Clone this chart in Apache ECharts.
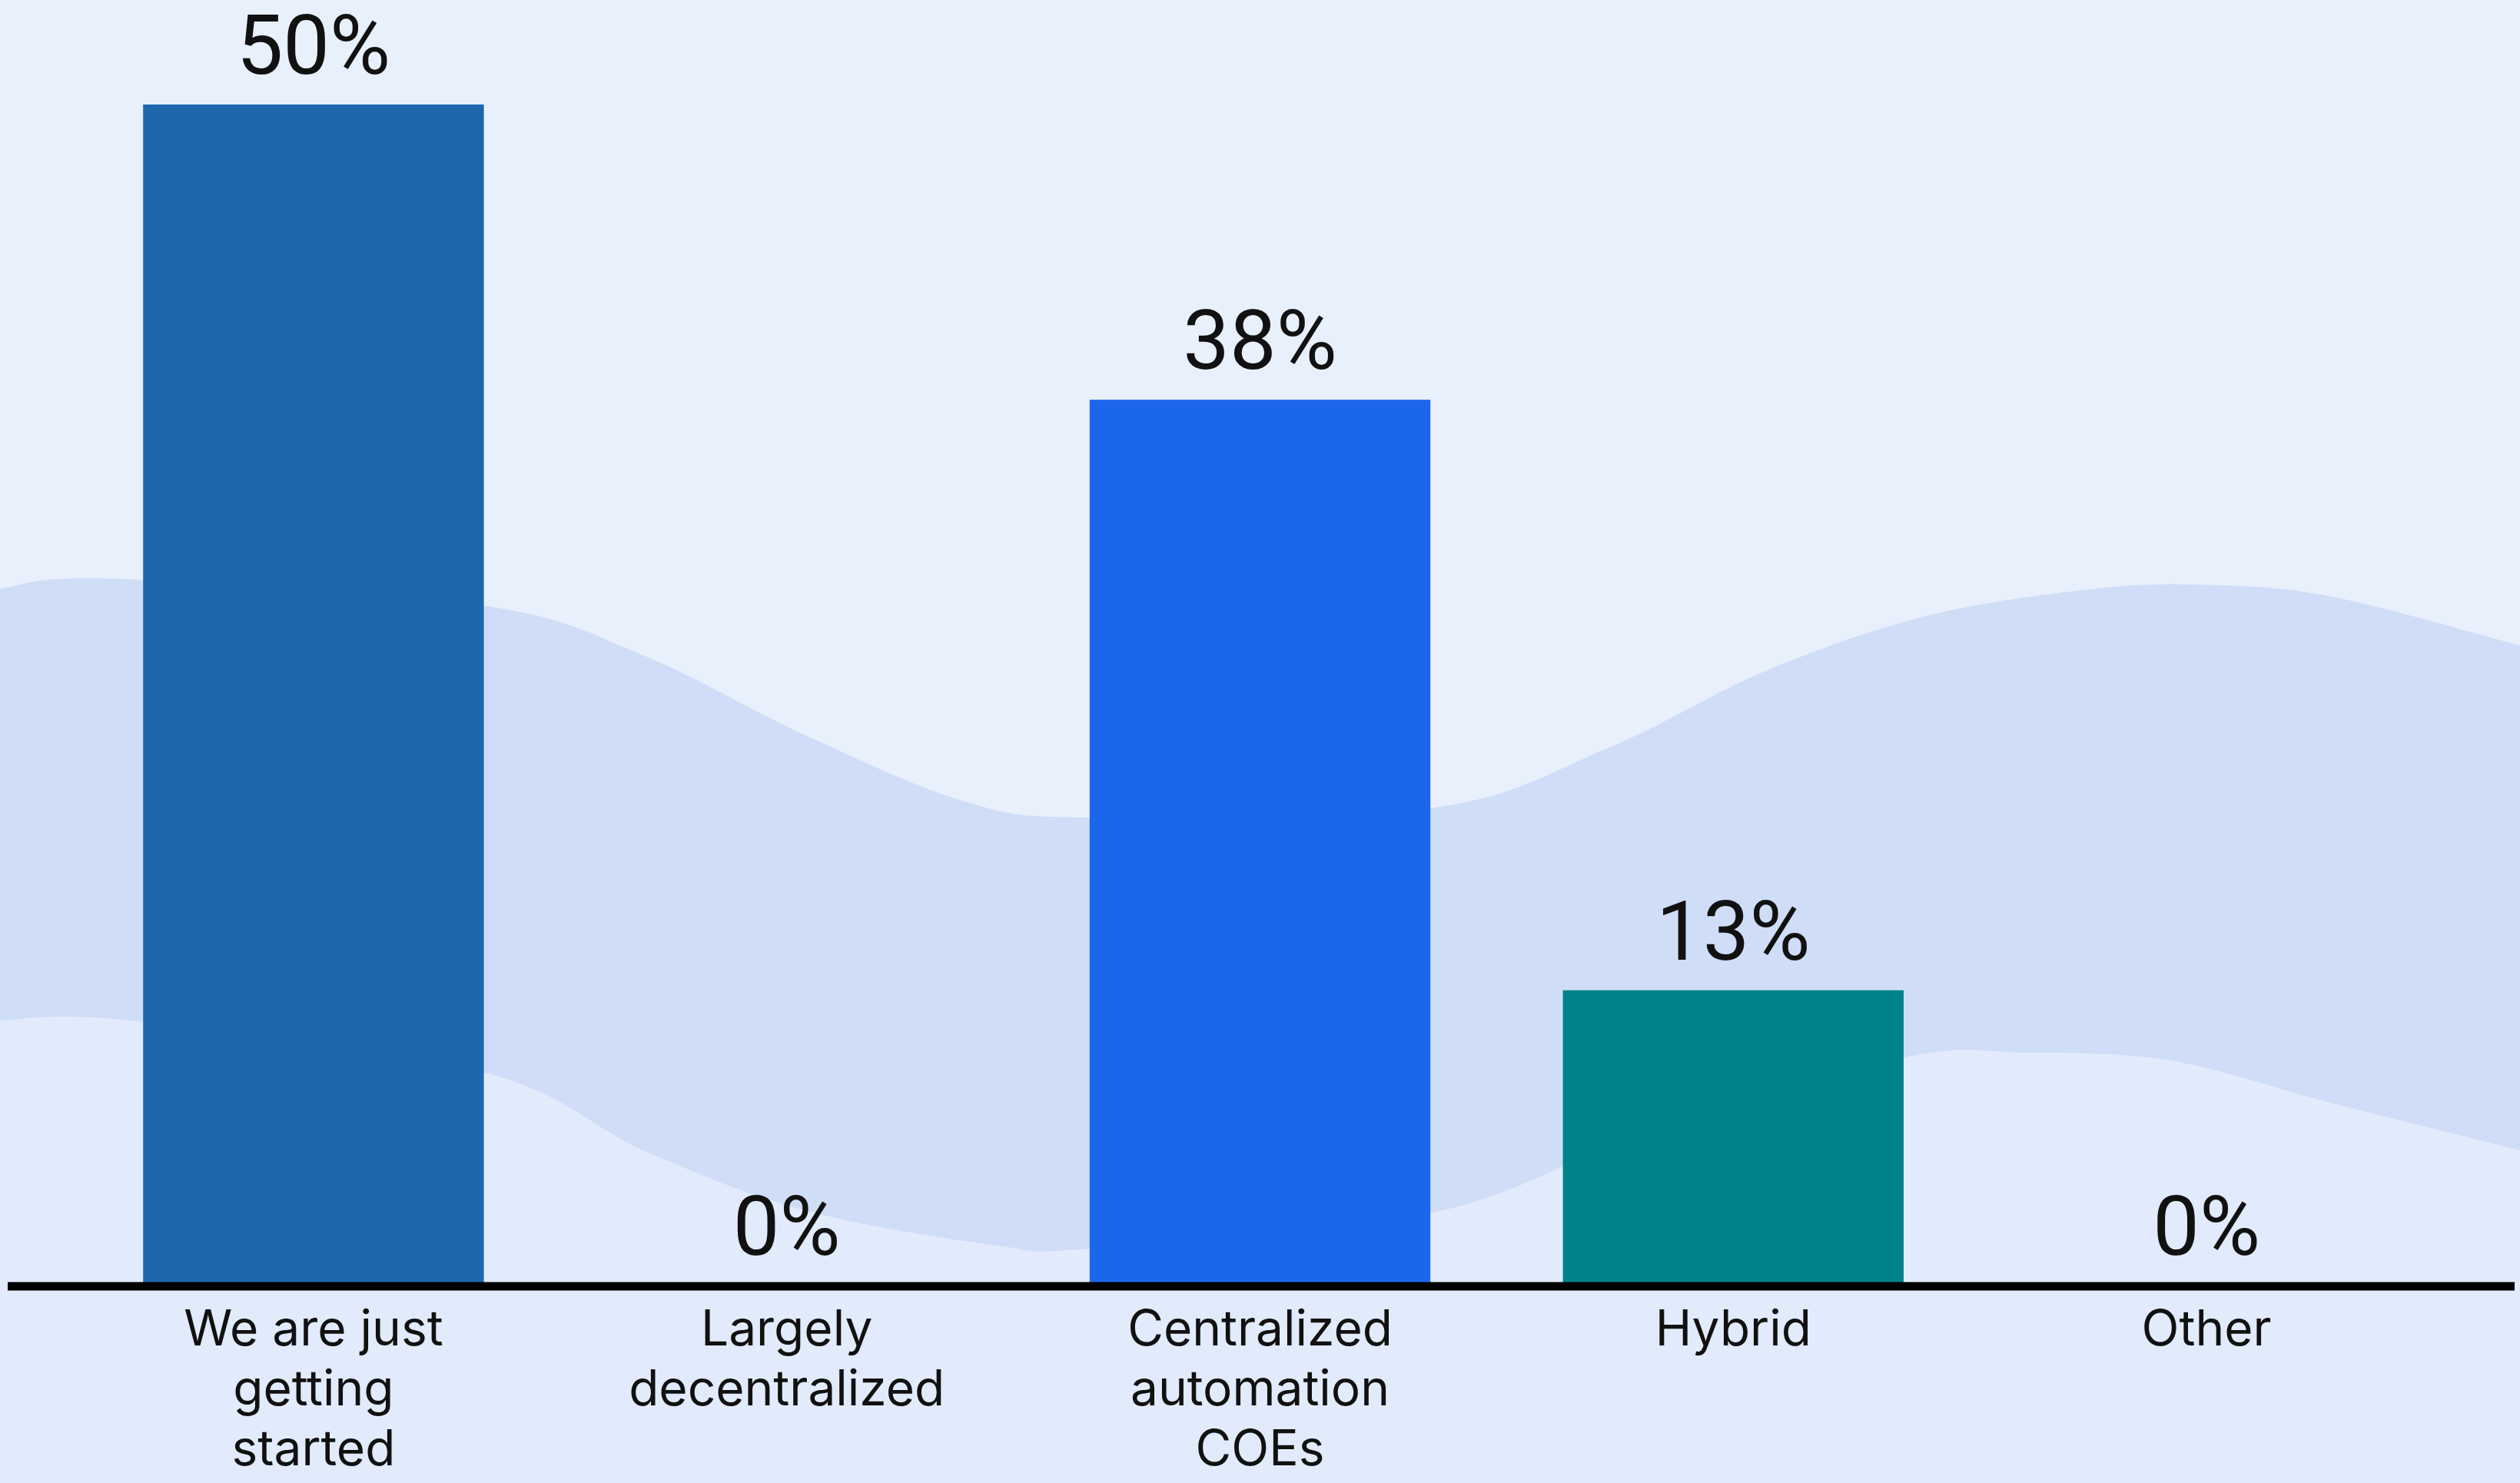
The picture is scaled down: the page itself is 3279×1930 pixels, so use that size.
<!DOCTYPE html>
<html>
<head>
<meta charset="utf-8">
<script src="https://cdn.jsdelivr.net/npm/echarts@6/dist/echarts.min.js"></script>
<style>
html,body{margin:0;padding:0;background:#E8F0FC;}
#chart{width:3279px;height:1930px;}
</style>
</head>
<body>
<div id="chart"></div>
<script>
const categories = ['We are just\ngetting\nstarted', 'Largely\ndecentralized', 'Centralized\nautomation\nCOEs', 'Hybrid', 'Other'];
const values = [50, 0, 37.5, 12.5, 0];
const barColors = ['#1D67AC', '#1D67AC', '#1C66EB', '#008288', '#008288'];

// decorative background wave (not data)
const waveTop = [[0,766],[146,753],[627,788],[837,853],[1046,956],[1255,1043],[1418,1064],[1861,1052],[2091,974],[2300,872],[2509,801],[2719,767],[2865,761],[3032,776],[3279,840]];
const waveBottom = [[0,1328],[167,1328],[627,1395],[837,1497],[1046,1575],[1297,1621],[1418,1625],[1861,1579],[2150,1470],[2478,1376],[2635,1370],[2823,1380],[3032,1435],[3279,1497]];

function sampleCurve(pts) {
  const out = [];
  for (let i = 0; i < pts.length - 1; i++) {
    const p0 = pts[i-1] || pts[i], p1 = pts[i], p2 = pts[i+1], p3 = pts[i+2] || pts[i+1];
    const c1 = [p1[0] + (p2[0]-p0[0])/6, p1[1] + (p2[1]-p0[1])/6];
    const c2 = [p2[0] - (p3[0]-p1[0])/6, p2[1] - (p3[1]-p1[1])/6];
    for (let k = 0; k < 20; k++) {
      const t = k / 20, u = 1 - t;
      out.push([
        u*u*u*p1[0] + 3*u*u*t*c1[0] + 3*u*t*t*c2[0] + t*t*t*p2[0],
        u*u*u*p1[1] + 3*u*u*t*c1[1] + 3*u*t*t*c2[1] + t*t*t*p2[1]
      ]);
    }
  }
  out.push(pts[pts.length - 1]);
  return out;
}
const topPts = sampleCurve(waveTop);
const botPts = sampleCurve(waveBottom);
const bandPoly = topPts.concat(botPts.slice().reverse());
const lowPoly = botPts.concat([[3279,1930],[0,1930]]);

const chart = echarts.init(document.getElementById('chart'));
chart.setOption({
  backgroundColor: '#E8F0FC',
  animation: false,
  grid: {left: 100, right: 100, top: 136, bottom: 257},
  xAxis: {
    type: 'category',
    data: categories,
    axisLine: {show: false},
    axisTick: {show: false},
    axisLabel: {
      fontFamily: 'Inter', fontSize: 64, lineHeight: 78, color: '#111111', margin: 20, interval: 0
    }
  },
  yAxis: {type: 'value', min: 0, max: 50, show: false, splitLine: {show: false}},
  graphic: [
    {type: 'polygon', z: -1, silent: true, shape: {points: lowPoly}, style: {fill: '#E2EBFC'}},
    {type: 'polygon', z: -1, silent: true, shape: {points: bandPoly}, style: {fill: '#CFDDF7'}},
    {type: 'line', z: 100, silent: true, shape: {x1: 10, y1: 1674, x2: 3272, y2: 1674}, style: {stroke: '#000000', lineWidth: 11}}
  ],
  series: [{
    type: 'bar',
    barCategoryGap: '28%',
    data: values.map((v, i) => ({value: v, itemStyle: {color: barColors[i]}})),
    label: {
      show: true, position: 'top', distance: 15,
      fontFamily: 'Roboto', fontSize: 108, lineHeight: 104, color: '#111111',
      formatter: p => Math.round(p.value) + '%'
    }
  }]
});
</script>
</body>
</html>
